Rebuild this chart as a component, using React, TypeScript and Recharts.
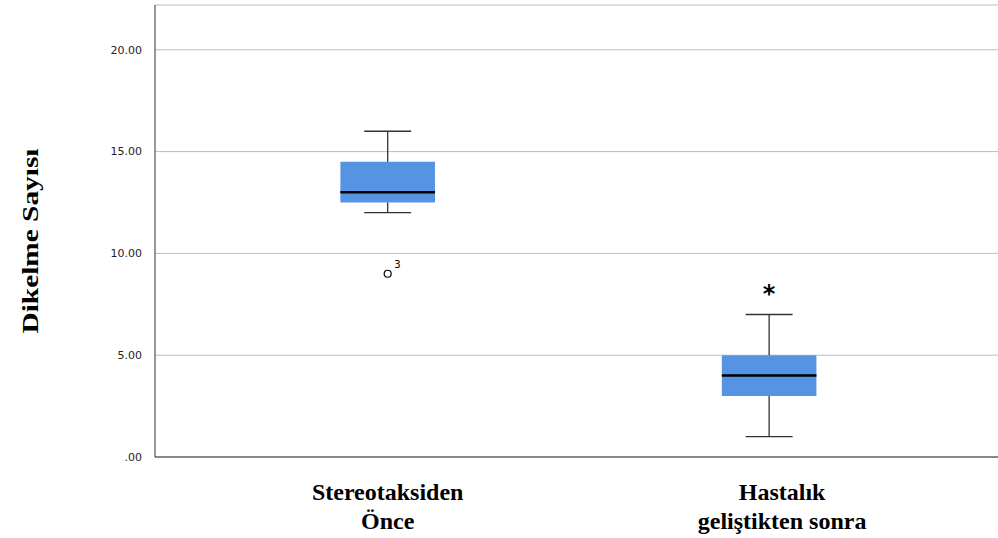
import React from 'react';
import {
  ComposedChart, XAxis, YAxis, CartesianGrid, ReferenceArea, ReferenceLine, Scatter, LabelList,
} from 'recharts';

// ---- data ----
const categoryLines: string[][] = [
  ['Stereotaksiden', 'Önce'],
  ['Hastalık', 'geliştikten sonra'],
];
const positions = [1, 2];
const mins = [12, 1];
const q1s = [12.5, 3];
const medians = [13, 4];
const q3s = [14.5, 5];
const maxs = [16, 7];
const outliers = [{ x: 1, y: 9, label: '3' }];
const extremes = [{ x: 2, y: 8 }];
const yTicks = [0, 5, 10, 15, 20];
const yLabel = 'Dikelme Sayısı';

// ---- style constants ----
const BOX_HALF = 0.124;
const CAP_HALF = 0.0615;
const BOX_FILL = '#5494E3';
const LINE = '#333333';
const LABEL_DX = [0, 13];
const SERIF = '"Liberation Serif", "Times New Roman", serif';
const SANS = '"DejaVu Sans", Verdana, sans-serif';

const XTick = (props: any) => {
  const { x, y, payload } = props;
  const idx = positions.indexOf(payload.value);
  const lines = idx >= 0 ? categoryLines[idx] : [];
  const dx = idx >= 0 ? LABEL_DX[idx] : 0;
  return (
    <g>
      {lines.map((l, i) => (
        <text key={i} x={x + dx} y={y + 35 + i * 29} textAnchor="middle"
          fontFamily={SERIF} fontWeight="bold" fontSize={24} fill="#000">{l}</text>
      ))}
    </g>
  );
};

const YLabel = (props: any) => {
  const vb = props.viewBox || { x: 0, y: 0, width: 0, height: 0 };
  const cx = vb.x + 30;
  const cy = vb.y + vb.height / 2 + 10;
  return (
    <text x={cx} y={cy} transform={`rotate(-90 ${cx} ${cy})`} textAnchor="middle"
      dominantBaseline="central" fontFamily={SERIF} fontWeight="bold" fontSize={24}
      textLength={185} lengthAdjust="spacingAndGlyphs" fill="#000">
      {yLabel}
    </text>
  );
};

const OutlierShape = (props: any) => {
  const { cx, cy } = props;
  return <circle cx={cx} cy={cy} r={3.5} fill="#fff" stroke="#000" strokeWidth={1.2} />;
};

const ExtremeShape = (props: any) => {
  const { cx, cy } = props;
  return (
    <text x={cx} y={cy + 8} textAnchor="middle" fontFamily={SANS} fontWeight="bold"
      fontSize={24} fill="#000">*</text>
  );
};

export default function App() {
  return (
    <div style={{ position: 'absolute', left: 0, top: 0, background: '#fff' }}>
      <ComposedChart width={998} height={538} margin={{ top: 5, right: 0, bottom: 0, left: 0 }}>
        <CartesianGrid horizontal vertical={false} stroke="#bdbdbd" />
        <XAxis type="number" dataKey="x" domain={[0.39, 2.6]} ticks={positions}
          allowDataOverflow tickLine={false} axisLine={{ stroke: LINE }} height={81}
          tick={<XTick />} interval={0} />
        <YAxis type="number" dataKey="y" domain={[0, 22.2]} ticks={yTicks} allowDataOverflow
          width={155} tickLine={false} axisLine={{ stroke: LINE }} tickMargin={7}
          tickFormatter={(v: number) => (v === 0 ? '.00' : v.toFixed(2))}
          tick={{ fontFamily: SANS, fontSize: 11, fill: '#222' }}
          label={<YLabel />} />
        {positions.map((p, i) => (
          <ReferenceLine key={`wl${i}`} segment={[{ x: p, y: mins[i] }, { x: p, y: q1s[i] }]}
            stroke={LINE} strokeWidth={1.3} />
        ))}
        {positions.map((p, i) => (
          <ReferenceLine key={`wu${i}`} segment={[{ x: p, y: q3s[i] }, { x: p, y: maxs[i] }]}
            stroke={LINE} strokeWidth={1.3} />
        ))}
        {positions.map((p, i) => (
          <ReferenceLine key={`cl${i}`} segment={[{ x: p - CAP_HALF, y: mins[i] }, { x: p + CAP_HALF, y: mins[i] }]}
            stroke={LINE} strokeWidth={1.3} />
        ))}
        {positions.map((p, i) => (
          <ReferenceLine key={`cu${i}`} segment={[{ x: p - CAP_HALF, y: maxs[i] }, { x: p + CAP_HALF, y: maxs[i] }]}
            stroke={LINE} strokeWidth={1.3} />
        ))}
        {positions.map((p, i) => (
          <ReferenceArea key={`b${i}`} x1={p - BOX_HALF} x2={p + BOX_HALF} y1={q1s[i]} y2={q3s[i]}
            fill={BOX_FILL} fillOpacity={1} stroke="none" />
        ))}
        {positions.map((p, i) => (
          <ReferenceLine key={`m${i}`} segment={[{ x: p - BOX_HALF, y: medians[i] }, { x: p + BOX_HALF, y: medians[i] }]}
            stroke="#000" strokeWidth={2.6} />
        ))}
        <Scatter data={outliers} dataKey="y" shape={<OutlierShape />} isAnimationActive={false}>
          <LabelList dataKey="label" position="right" offset={2} dy={-9}
            style={{ fontFamily: SANS, fontSize: 10, fill: '#000' }} />
        </Scatter>
        <Scatter data={extremes} dataKey="y" shape={<ExtremeShape />} isAnimationActive={false} />
      </ComposedChart>
    </div>
  );
}
